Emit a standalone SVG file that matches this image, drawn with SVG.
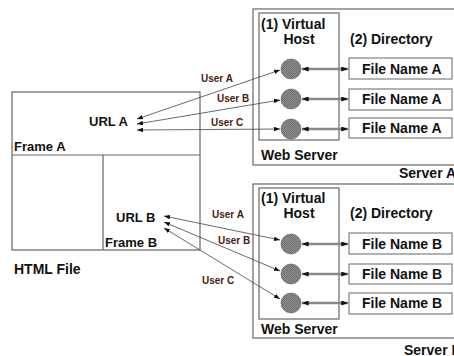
<svg xmlns="http://www.w3.org/2000/svg" width="454" height="356" viewBox="0 0 454 356">
<style>
text{font-family:"Liberation Sans",Arial,sans-serif;font-weight:bold;fill:#111}
.big{font-size:14px}
.mid{font-size:13px}
.usr{font-size:10px;fill:#4a1c10}
.box{fill:#fff;stroke:#666;stroke-width:1}
.frame{fill:none;stroke:#666;stroke-width:1.2}
.ul{fill:none;stroke:#444;stroke-width:0.8;marker-start:url(#tip);marker-end:url(#tip)}
.bi{fill:none;stroke:#888;stroke-width:2.5;marker-start:url(#tip2);marker-end:url(#tip2)}
.host{fill:url(#chk);stroke:#555;stroke-width:0.6}
</style>
<defs>
<marker id="tip" viewBox="0 0 8 6" refX="8" refY="3" markerWidth="6" markerHeight="4.5" markerUnits="userSpaceOnUse" orient="auto-start-reverse"><path d="M0,0 L8,3 L0,6 z" fill="#111"/></marker>
<marker id="tip2" viewBox="0 0 8 6" refX="8" refY="3" markerWidth="7" markerHeight="5" markerUnits="userSpaceOnUse" orient="auto-start-reverse"><path d="M0,0 L8,3 L0,6 z" fill="#111"/></marker>
<pattern id="chk" width="2" height="2" patternUnits="userSpaceOnUse"><rect width="2" height="2" fill="#8c8c8c"/><rect width="1" height="1" fill="#727272"/><rect x="1" y="1" width="1" height="1" fill="#727272"/></pattern>
</defs>

<g id="html-file">
<rect class="frame" x="12" y="92" width="188" height="158"/>
<line class="frame" x1="12" y1="155" x2="200" y2="155"/>
<line class="frame" x1="103" y1="155" x2="103" y2="250"/>
<text class="mid" x="89" y="126">URL A</text>
<text class="mid" x="14" y="151">Frame A</text>
<text class="mid" x="116" y="222">URL B</text>
<text class="mid" x="105" y="247">Frame B</text>
<text class="big" x="14" y="274">HTML File</text>
</g>

<g id="server-a">
<rect class="frame" x="253" y="9" width="220" height="156"/>
<rect class="frame" x="259" y="13" width="80" height="127"/>
<text class="big" x="261" y="29">(1) Virtual</text>
<text class="big" x="299" y="44" text-anchor="middle">Host</text>
<text class="big" x="350" y="44">(2) Directory</text>
<text class="big" x="261" y="160">Web Server</text>
<text class="big" x="399" y="178">Server A</text>
<circle class="host" cx="291" cy="69" r="10"/>
<circle class="host" cx="291" cy="99" r="10"/>
<circle class="host" cx="291" cy="129" r="10"/>
<g id="file-a1"><rect class="box" x="349" y="58" width="103" height="21"/><text class="big" x="362" y="74">File Name A</text></g>
<g id="file-a2"><rect class="box" x="349" y="89" width="103" height="21"/><text class="big" x="362" y="104">File Name A</text></g>
<g id="file-a3"><rect class="box" x="349" y="118" width="103" height="20"/><text class="big" x="362" y="133">File Name A</text></g>
</g>

<g id="server-b">
<rect class="frame" x="253" y="184" width="220" height="154"/>
<rect class="frame" x="259" y="188" width="80" height="131"/>
<text class="big" x="261" y="203">(1) Virtual</text>
<text class="big" x="299" y="218" text-anchor="middle">Host</text>
<text class="big" x="350" y="218">(2) Directory</text>
<text class="big" x="261" y="334">Web Server</text>
<text class="big" x="404" y="355">Server B</text>
<circle class="host" cx="291" cy="244" r="10"/>
<circle class="host" cx="291" cy="274" r="10"/>
<circle class="host" cx="291" cy="303" r="10"/>
<g id="file-b1"><rect class="box" x="349" y="233" width="103" height="21"/><text class="big" x="362" y="249">File Name B</text></g>
<g id="file-b2"><rect class="box" x="349" y="264" width="103" height="20"/><text class="big" x="362" y="279">File Name B</text></g>
<g id="file-b3"><rect class="box" x="349" y="293" width="103" height="21"/><text class="big" x="362" y="308">File Name B</text></g>
</g>

<g id="connectors">
<line class="ul" x1="137" y1="119" x2="280" y2="70"/>
<line class="ul" x1="137" y1="124" x2="280" y2="100"/>
<line class="ul" x1="137" y1="130" x2="280" y2="129"/>
<line class="ul" x1="164" y1="216" x2="280" y2="240"/>
<line class="ul" x1="164" y1="222" x2="280" y2="271"/>
<line class="ul" x1="164" y1="228" x2="280" y2="299"/>
<line class="bi" x1="302" y1="69" x2="348" y2="69"/>
<line class="bi" x1="302" y1="99" x2="348" y2="99"/>
<line class="bi" x1="302" y1="129" x2="348" y2="129"/>
<line class="bi" x1="302" y1="244" x2="348" y2="244"/>
<line class="bi" x1="302" y1="274" x2="348" y2="274"/>
<line class="bi" x1="302" y1="303" x2="348" y2="303"/>
<text class="usr" x="201" y="82">User A</text>
<text class="usr" x="217" y="102">User B</text>
<text class="usr" x="211" y="126">User C</text>
<text class="usr" x="212" y="218">User A</text>
<text class="usr" x="218" y="244">User B</text>
<text class="usr" x="202" y="284">User C</text>
</g>
</svg>
